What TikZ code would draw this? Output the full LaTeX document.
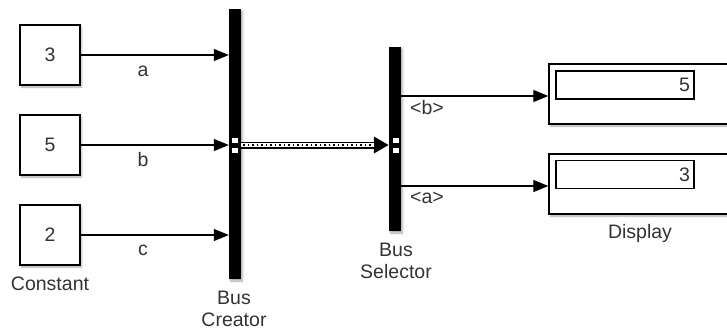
\documentclass[tikz,border=0pt]{standalone}
\usepackage{fontspec}
\setmainfont{Liberation Sans}
\usetikzlibrary{arrows.meta,shadows.blur}
\begin{document}
\begin{tikzpicture}[x=1pt,y=-1pt,
 shd/.style={blur shadow={shadow xshift=1.5pt,shadow yshift=-2pt,shadow blur radius=2pt,shadow opacity=35}},
 blk/.style={draw, line width=1.4pt, fill=white, inner sep=0, shd, font=\fontsize{19.5}{21}\selectfont, text=black!80},
 bar/.style={fill=black, draw=none, inner sep=0, minimum width=12pt, shd},
 sig/.style={line width=1.3pt, -{Triangle[length=15pt,width=12pt]}},
 lbl/.style={font=\fontsize{19.5}{21.5}\selectfont, text=black!80, inner sep=0, align=center},
 port/.style={fill=white, draw=none, minimum width=6pt, minimum height=5pt, inner sep=0},
 inbox/.style={draw, line width=1.2pt, fill=white, minimum height=28pt, text width=130pt, align=right, inner sep=4pt, font=\fontsize{19.5}{21}\selectfont, text=black!80}
]
\clip (0,0) rectangle (727,330);
% constants
\node[blk, minimum size=60pt] (k1) at (50,55) {3};
\node[blk, minimum size=60pt] (k2) at (50,145) {5};
\node[blk, minimum size=60pt] (k3) at (50,235) {2};
\node[lbl] (kl) at (50,284) {Constant};
% bars
\node[bar, minimum height=270pt] (bc) at (235,144) {};
\node[bar, minimum height=184pt] (bs) at (395,139) {};
\node[lbl] (bcl) at (234,309) {Bus\\Creator};
\node[lbl] (bsl) at (396,261) {Bus\\Selector};
% signals in
\draw[sig] (k1.east) -- (bc.west |- k1.east);
\draw[sig] (k2.east) -- (bc.west |- k2.east);
\draw[sig] (k3.east) -- (bc.west |- k3.east);
\node[lbl] (la) at (143,71) {a};
\node[lbl] (lb) at (143,160) {b};
\node[lbl] (lc) at (143,250) {c};
% ports
\node[port] (p1) at (235,140.5) {};
\node[port] (p2) at (235,150.5) {};
\node[port] (p3) at (395.5,140.5) {};
\node[port] (p4) at (395.5,150.5) {};
% bus
\coordinate (bs0) at (bc.east |- k2.east);
\coordinate (bs1) at (bs.west |- k2.east);
\draw[line width=7pt, -{Triangle[length=15pt,width=16pt]}] (bs0) -- (bs1);
\draw[white, line width=4pt] (bs0) -- ([xshift=-15pt]bs1);
\draw[line width=1.3pt, dash pattern=on 1.5pt off 3pt] ([xshift=2pt]bs0) -- ([xshift=-15pt]bs1);
% displays
\node[blk, minimum width=211pt, minimum height=60pt] (d1) at (654.5,94) {};
\node[blk, minimum width=211pt, minimum height=60pt] (d2) at (654.5,184) {};
\node[inbox] (v1) at (625,85) {5};
\node[inbox] (v2) at (625,174.5) {3};
\node[lbl] (dl) at (640,233) {Display};
\draw[sig] (bs.east |- 0,96) coordinate (o1) -- (d1.west |- o1);
\draw[sig] (bs.east |- 0,186) coordinate (o2) -- (d2.west |- o2);
\node[lbl] (lob) at (427,108) {<b>};
\node[lbl] (loa) at (427,198) {<a>};
\end{tikzpicture}
\end{document}
